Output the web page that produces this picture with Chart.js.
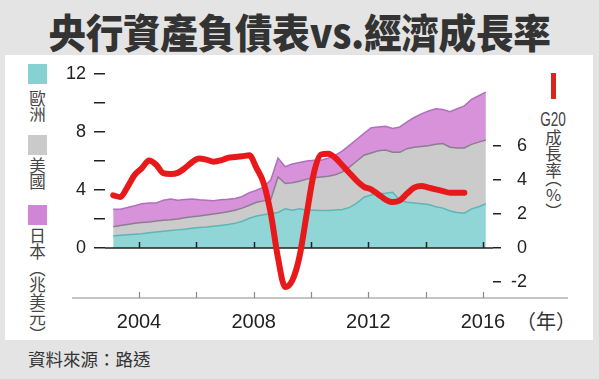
<!DOCTYPE html>
<html>
<head>
<meta charset="utf-8">
<script src="https://cdn.jsdelivr.net/npm/chart.js@4.4.1/dist/chart.umd.min.js"></script>
<style>
  body { margin: 0; width: 599px; height: 379px; background: #e4e4e4; position: relative; overflow: hidden; font-family: 'Noto Sans CJK TC', sans-serif; }
  #panel { position: absolute; left: 5px; top: 55px; width: 588px; height: 285px; background: #fff; }
  #chart { position: absolute; left: 0; top: 0; }
  .title { position: absolute; left: 0; top: 11px; width: 599px; text-align: center; font-size: 40px; line-height: 40px; font-weight: 800; color: #333; transform: scaleX(0.94); letter-spacing: -0.3px; }
  .box { position: absolute; left: 28px; width: 19px; height: 20px; }
  .vlabel { position: absolute; writing-mode: vertical-rl; font-size: 16.5px; line-height: 16.5px; color: #444; }
  .g20 { position: absolute; left: 533px; top: 109px; width: 40px; text-align: center; font-family: 'Liberation Sans', Arial, sans-serif; font-size: 20px; line-height: 20px; color: #444; transform: scaleX(0.68); }
  .redbar { position: absolute; left: 551px; top: 73px; width: 5px; height: 26px; background: #d9261c; }
  .year { position: absolute; left: 516px; top: 311px; font-size: 20px; line-height: 20px; color: #333; }
  .source { position: absolute; left: 28px; top: 350px; font-size: 17.5px; line-height: 17.5px; color: #333; }
</style>
</head>
<body>
<div id="panel"></div>
<div class="title">央行資產負債表vs.經濟成長率</div>

<div class="box" style="top:64px;background:#86d2d2"></div>
<div class="vlabel" style="left:29px;top:90px">歐洲</div>
<div class="box" style="top:135px;background:#cacaca"></div>
<div class="vlabel" style="left:29px;top:157px">美國</div>
<div class="box" style="top:205px;background:#cf86d4"></div>
<div class="vlabel" style="left:29px;top:227px">日本（兆美元）</div>

<div class="redbar"></div>
<div class="g20">G20</div>
<div class="vlabel" style="left:545px;top:129px;text-orientation:upright;font-feature-settings:'vhal' 1">成長率（%）</div>

<div class="year">（年）</div>
<div class="source">資料來源：路透</div>

<canvas id="chart" width="599" height="379"></canvas>

<script>
// quarterly readings, trillion USD (each bank's own balance sheet, stacked in the chart)
const europe = [0.83,0.88,0.92,0.95,0.98,1.05,1.10,1.15,1.20,1.25,1.30,1.36,1.42,1.45,1.50,1.56,1.62,1.70,1.85,2.05,2.20,2.30,2.38,2.45,2.70,2.60,2.70,2.60,2.60,2.58,2.58,2.62,2.65,2.80,3.10,3.50,3.65,3.75,3.78,3.85,3.30,3.15,3.10,3.05,3.00,2.85,2.75,2.55,2.45,2.40,2.70,2.85,3.05];
const usa = [0.64,0.67,0.70,0.75,0.78,0.75,0.76,0.77,0.75,0.75,0.78,0.79,0.78,0.83,0.85,0.86,0.88,0.90,0.90,0.90,0.95,0.95,0.97,2.45,1.75,1.90,1.90,2.15,2.25,2.32,2.37,2.43,2.60,2.80,2.90,2.90,2.90,2.95,2.97,2.75,3.30,3.70,3.85,3.95,4.05,4.30,4.45,4.40,4.45,4.50,4.45,4.45,4.40];
const japan = [1.20,1.12,1.18,1.22,1.29,1.30,1.24,1.38,1.43,1.30,1.27,1.23,1.12,1.02,0.91,0.91,0.86,0.82,0.80,0.87,0.83,0.95,1.35,1.30,1.15,1.30,1.30,1.25,1.20,1.15,1.25,1.35,1.45,1.50,1.50,1.50,1.75,1.65,1.65,1.65,1.75,1.85,2.05,2.25,2.40,2.45,2.35,2.45,2.70,2.90,3.10,3.20,3.30];
// G20 growth rate (%), same quarters, ends 2015
const g20Growth = [3.1,3.0,3.6,4.3,4.7,5.15,4.9,4.4,4.35,4.42,4.7,5.05,5.27,5.2,5.08,5.15,5.3,5.35,5.4,5.45,4.7,3.8,2.0,-0.6,-2.3,-1.9,-0.5,2.0,4.4,5.5,5.55,5.3,4.85,4.4,3.95,3.6,3.45,3.15,2.85,2.7,2.8,3.2,3.55,3.65,3.55,3.45,3.35,3.25,3.25,3.25];

const xLabelYears = [2004, 2008, 2012, 2016];
const yearTicks = [2004, 2006, 2008, 2010, 2012, 2014, 2016];
const leftTicks = [0, 2, 4, 6, 8, 10, 12];
const leftLabels = [0, 4, 8, 12];
const rightTicks = [-2, 0, 2, 4, 6];

// time stamps of the quarterly readings (decimal years)
const quarterX = [];
for (let i = 0; i < europe.length; i++) quarterX.push(2003.1 + i * 0.25);
const pts = arr => arr.map((v, i) => ({ x: quarterX[i], y: v }));

// zero line + small year ticks, drawn under the red line
const axisDecor = {
  id: 'axisDecor',
  afterDatasetDraw(chart, args) {
    if (args.index !== 1) return;
    const { ctx, chartArea, scales } = chart;
    const y0 = scales.y.getPixelForValue(0);
    const yb = chartArea.bottom;
    ctx.save();
    ctx.strokeStyle = '#222';
    ctx.lineWidth = 1.5;
    ctx.beginPath();
    ctx.moveTo(chartArea.left, y0);
    ctx.lineTo(chartArea.right, y0);
    yearTicks.forEach(yr => {
      const px = Math.round(scales.x.getPixelForValue(yr)) + 0.5;
      ctx.moveTo(px, y0);
      ctx.lineTo(px, y0 - 6);
    });
    ctx.stroke();
    ctx.strokeStyle = '#8a8a8a';
    ctx.lineWidth = 1.2;
    ctx.beginPath();
    ctx.moveTo(chartArea.left - 33, yb);
    ctx.lineTo(chartArea.right + 75, yb);
    yearTicks.forEach(yr => {
      const px = Math.round(scales.x.getPixelForValue(yr)) + 0.5;
      ctx.moveTo(px, yb);
      ctx.lineTo(px, yb - 6);
    });
    ctx.stroke();
    ctx.restore();
  }
};

const numFont = { family: "'Liberation Sans', Arial, sans-serif", size: 18 };

const balanceChart = new Chart(document.getElementById('chart'), {
  type: 'line',
  data: {
    datasets: [
      {
        label: 'G20成長率',
        data: pts(g20Growth),
        yAxisID: 'y2',
        borderColor: '#e8191b',
        borderWidth: 6,
        cubicInterpolationMode: 'monotone',
        borderJoinStyle: 'round',
        borderCapStyle: 'round',
        fill: false,
        pointRadius: 0,
        order: 0
      },
      {
        label: '歐洲',
        data: pts(europe),
        yAxisID: 'y',
        fill: 'origin',
        backgroundColor: '#91d6d6',
        borderColor: '#5db6b6',
        borderWidth: 1.5,
        pointRadius: 0,
        order: 1
      },
      {
        label: '美國',
        data: pts(usa),
        yAxisID: 'y',
        fill: '-1',
        backgroundColor: '#cbcbcb',
        borderColor: '#8a7f8e',
        borderWidth: 1.5,
        pointRadius: 0,
        order: 1
      },
      {
        label: '日本',
        data: pts(japan),
        yAxisID: 'y',
        fill: '-1',
        backgroundColor: '#d792d9',
        borderColor: '#b070bd',
        borderWidth: 1.5,
        pointRadius: 0,
        order: 1
      }
    ]
  },
  options: {
    responsive: false,
    animation: false,
    devicePixelRatio: 1,
    layout: { padding: { top: 74, right: 72, bottom: 0, left: 0 } },
    plugins: {
      legend: { display: false },
      tooltip: { enabled: false }
    },
    scales: {
      x: {
        type: 'linear',
        min: 2002.814,
        max: 2016.349,
        grid: { display: false, drawTicks: false },
        border: { display: false },
        afterBuildTicks: s => { s.ticks = xLabelYears.map(v => ({ value: v })); },
        afterFit: s => { s.height = 81; },
        ticks: {
          autoSkip: false,
          maxRotation: 0,
          padding: 12,
          color: '#222',
          font: { family: "'Liberation Sans', Arial, sans-serif", size: 20 },
          callback: v => String(v)
        }
      },
      y: {
        position: 'left',
        stacked: true,
        min: -3.448,
        max: 12,
        grid: { drawOnChartArea: false, drawTicks: true, tickLength: 11, color: '#222', lineWidth: 1.5 },
        border: { display: false },
        afterBuildTicks: s => { s.ticks = leftTicks.map(v => ({ value: v })); },
        afterFit: s => { s.width = 105; },
        ticks: {
          padding: 8,
          color: '#222',
          font: numFont,
          callback: v => leftLabels.includes(v) ? String(v) : ''
        }
      },
      y2: {
        position: 'right',
        min: -2.941,
        max: 10.235,
        grid: { drawOnChartArea: false, drawTicks: true, tickLength: 8, color: '#222', lineWidth: 1.5 },
        border: { display: false },
        afterBuildTicks: s => { s.ticks = rightTicks.map(v => ({ value: v })); },
        afterFit: s => { s.width = 34; },
        ticks: {
          padding: 6,
          crossAlign: 'far',
          color: '#222',
          font: numFont,
          callback: v => String(v)
        }
      }
    }
  },
  plugins: [axisDecor]
});
</script>
</body>
</html>
